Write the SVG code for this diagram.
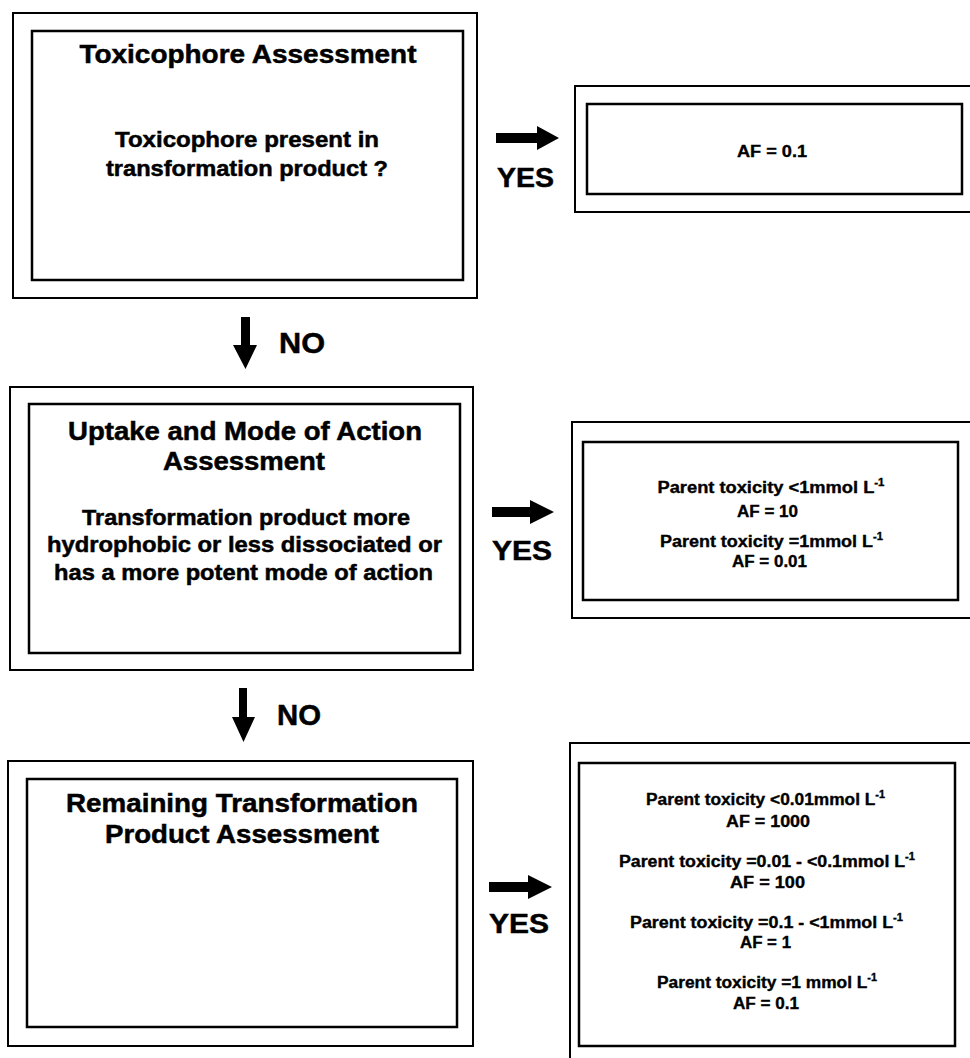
<svg xmlns="http://www.w3.org/2000/svg" width="970" height="1058" viewBox="0 0 970 1058">
<style>
.o{fill:none;stroke:#000;stroke-width:2}
.i{fill:none;stroke:#000;stroke-width:2.5}
text{font-family:"Liberation Sans",Arial,sans-serif;font-weight:bold;fill:#000;stroke:#000;stroke-width:0.5;text-anchor:middle}
.t{font-size:26px}
.s{font-size:22px}
.r{font-size:16px;stroke-width:0.35}
.sup{font-size:10px}
.lbl{font-size:28px}
.no{font-size:30px;text-anchor:start}
.arr{fill:#000;stroke:none}
</style>
<rect width="970" height="1058" fill="#fff"/>
<g id="toxicophore">
<rect class="o" x="13" y="13" width="464" height="285"/>
<rect class="i" x="32" y="31" width="431" height="249"/>
<text class="t" x="248" y="63" textLength="337" lengthAdjust="spacingAndGlyphs">Toxicophore Assessment</text>
<text class="s" x="247" y="147" textLength="264" lengthAdjust="spacingAndGlyphs">Toxicophore present in</text>
<text class="s" x="247" y="176" textLength="282" lengthAdjust="spacingAndGlyphs">transformation product ?</text>
</g>
<g id="af-toxicophore">
<rect class="o" x="575" y="86" width="410" height="126"/>
<rect class="i" x="587" y="104" width="375" height="90"/>
<text class="r" x="772" y="157" textLength="70" lengthAdjust="spacingAndGlyphs">AF = 0.1</text>
</g>
<g id="uptake">
<rect class="o" x="10" y="387" width="463" height="283"/>
<rect class="i" x="29" y="404" width="431" height="249"/>
<text class="t" x="245" y="440" textLength="354" lengthAdjust="spacingAndGlyphs">Uptake and Mode of Action</text>
<text class="t" x="244" y="470" textLength="162" lengthAdjust="spacingAndGlyphs">Assessment</text>
<text class="s" x="246" y="525" textLength="328" lengthAdjust="spacingAndGlyphs">Transformation product more</text>
<text class="s" x="244.5" y="552" textLength="395" lengthAdjust="spacingAndGlyphs">hydrophobic or less dissociated or</text>
<text class="s" x="243.5" y="580" textLength="379" lengthAdjust="spacingAndGlyphs">has a more potent mode of action</text>
</g>
<g id="af-uptake">
<rect class="o" x="572" y="422" width="410" height="196"/>
<rect class="i" x="583" y="442" width="375" height="158"/>
<text class="r" x="771" y="493" textLength="227" lengthAdjust="spacingAndGlyphs">Parent toxicity &lt;1mmol L<tspan class="sup" dy="-7">-1</tspan></text>
<text class="r" x="767.5" y="517" textLength="61" lengthAdjust="spacingAndGlyphs">AF = 10</text>
<text class="r" x="771.5" y="547" textLength="223" lengthAdjust="spacingAndGlyphs">Parent toxicity =1mmol L<tspan class="sup" dy="-7">-1</tspan></text>
<text class="r" x="769.5" y="567" textLength="75" lengthAdjust="spacingAndGlyphs">AF = 0.01</text>
</g>
<g id="remaining">
<rect class="o" x="8" y="761" width="465" height="285"/>
<rect class="i" x="27" y="779" width="430" height="248"/>
<text class="t" x="242" y="812" textLength="352" lengthAdjust="spacingAndGlyphs">Remaining Transformation</text>
<text class="t" x="242" y="843" textLength="274" lengthAdjust="spacingAndGlyphs">Product Assessment</text>
</g>
<g id="af-remaining">
<rect class="o" x="570" y="743" width="415" height="330"/>
<rect class="i" x="579" y="763" width="376" height="283"/>
<text class="r" x="765.5" y="805" textLength="239" lengthAdjust="spacingAndGlyphs">Parent toxicity &lt;0.01mmol L<tspan class="sup" dy="-7">-1</tspan></text>
<text class="r" x="768" y="827" textLength="84" lengthAdjust="spacingAndGlyphs">AF = 1000</text>
<text class="r" x="767" y="867" textLength="296" lengthAdjust="spacingAndGlyphs">Parent toxicity =0.01 - &lt;0.1mmol L<tspan class="sup" dy="-7">-1</tspan></text>
<text class="r" x="767.5" y="888" textLength="75" lengthAdjust="spacingAndGlyphs">AF = 100</text>
<text class="r" x="766.5" y="928" textLength="273" lengthAdjust="spacingAndGlyphs">Parent toxicity =0.1 - &lt;1mmol L<tspan class="sup" dy="-7">-1</tspan></text>
<text class="r" x="765.5" y="948" textLength="51" lengthAdjust="spacingAndGlyphs">AF = 1</text>
<text class="r" x="767" y="988" textLength="220" lengthAdjust="spacingAndGlyphs">Parent toxicity =1 mmol L<tspan class="sup" dy="-7">-1</tspan></text>
<text class="r" x="766" y="1009" textLength="66" lengthAdjust="spacingAndGlyphs">AF = 0.1</text>
</g>
<g id="connectors">
<path class="arr" d="M496,133 H537 V126 L559,138 L537,150 V143 H496 Z"/>
<text class="lbl" x="525.5" y="187" textLength="57" lengthAdjust="spacingAndGlyphs">YES</text>
<path class="arr" d="M492,507 H530 V500 L554,512 L530,524 V517 H492 Z"/>
<text class="lbl" x="522" y="560" textLength="60" lengthAdjust="spacingAndGlyphs">YES</text>
<path class="arr" d="M489,882 H528 V875 L552,887 L528,899 V892 H489 Z"/>
<text class="lbl" x="519" y="933" textLength="60" lengthAdjust="spacingAndGlyphs">YES</text>
<path class="arr" d="M241,317 H250 V345 H257 L245.5,369 L233,345 H241 Z"/>
<text class="no" x="279" y="353" textLength="46" lengthAdjust="spacingAndGlyphs">NO</text>
<path class="arr" d="M239,688 H247 V717 H255 L243.5,742 L232,717 H239 Z"/>
<text class="no" x="277" y="725" textLength="44" lengthAdjust="spacingAndGlyphs">NO</text>
</g>
</svg>
